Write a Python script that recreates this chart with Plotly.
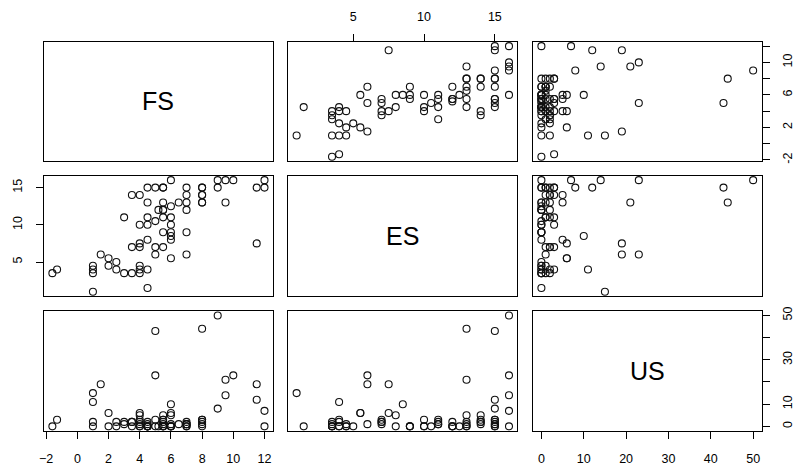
import plotly.graph_objects as go

# ---- data: (FS, ES, US) triplets read from the scatterplot matrix ----
FS = [-1.6, -1.3, 1, 1, 1, 1, 1.5, 2, 2, 2.5, 2.5, 3, 3, 3.5, 3.5, 3.5,
      4, 4, 4, 4, 4, 4, 4, 4.5, 4.5, 4.5, 4.5, 4.5, 4.5, 4.5,
      5, 5, 5, 5, 5.2, 5.5, 5.5, 5.5, 5.5, 5.5, 5.5, 5.5, 5.5,
      6, 6, 6, 6, 6, 6, 6, 6, 6.5, 7, 7, 7, 7, 7, 7,
      8, 8, 8, 8, 8, 8, 9, 9, 9.5, 9.5, 10, 11.5, 11.5, 12, 12]
ES = [3.5, 4, 1, 4, 3.5, 4.5, 6, 5.5, 4.5, 5, 4, 11, 3.5, 14, 7, 3.5,
      14, 7.5, 10, 7, 4.5, 4, 3.5, 15, 13, 11, 10, 8, 4, 1.5,
      15, 10.5, 7, 6, 12, 15, 15, 13, 12, 12, 11, 9, 7,
      16, 12.5, 11, 10, 9, 8.5, 8, 5.5, 13, 15, 14, 13, 12, 9, 6,
      15, 15, 14, 14, 13, 13, 16, 15, 16, 13, 16, 15, 7.5, 16, 15]
US = [0, 3, 15, 11, 2, 0, 19, 6, 0, 0, 2, 2, 1, 2, 2, 0,
      5, 6, 3, 2, 1, 0, 0, 2, 0, 1, 0, 0, 0, 0,
      43, 0, 3, 23, 0, 3, 0, 5, 2, 0, 3, 0, 1,
      0, 0, 1, 0, 0, 10, 5, 6, 1, 1, 1, 2, 0, 0, 1,
      3, 1, 3, 2, 44, 0, 50, 8, 14, 21, 23, 12, 19, 7, 0]

names = ["FS", "ES", "US"]
values = [FS, ES, US]
ranges = [[-2.144, 12.544], [0.4, 16.6], [-2.0, 52.0]]

FS_ticks = [-2, 0, 2, 4, 6, 8, 10, 12]
ES_ticks = [5, 10, 15]
US_ticks = [0, 10, 20, 30, 40, 50]

W, H = 795, 466
xpix = [(39.3, 270.7), (286.0, 517.7), (533.3, 764.3)]
ypix = [(38.3, 159.5), (174.3, 296.7), (311.7, 433.3)]
xdom = [[a / W, b / W] for a, b in xpix]
ydom = [[1 - b / H, 1 - a / H] for a, b in ypix]

FONT = "Liberation Sans, Arial, sans-serif"
fig = go.Figure()
layout = dict(width=W, height=H, margin=dict(l=0, r=0, t=0, b=0),
              paper_bgcolor="white", plot_bgcolor="white", showlegend=False,
              font=dict(family=FONT, size=12, color="black"))
annotations = []

base = dict(showline=True, mirror=True, linecolor="black", linewidth=1,
            showgrid=False, zeroline=False, ticks="", showticklabels=False,
            ticklen=7, tickwidth=1, tickcolor="black",
            tickfont=dict(family=FONT, size=12.5, color="black"))

for r in range(3):
    for c in range(3):
        k = r * 3 + c + 1
        sfx = "" if k == 1 else str(k)
        xa = dict(base, domain=xdom[c], anchor="y" + sfx, range=ranges[c])
        ya = dict(base, domain=ydom[r], anchor="x" + sfx, range=ranges[r])
        if r != c:
            fig.add_trace(go.Scatter(
                x=values[c], y=values[r], mode="markers",
                xaxis="x" + sfx, yaxis="y" + sfx,
                marker=dict(symbol="circle-open", size=7, color="#111",
                            line=dict(width=1.1, color="#111")),
                hoverinfo="skip"))
        else:
            # empty trace so the diagonal panel's axes are drawn
            fig.add_trace(go.Scatter(x=[None], y=[None], mode="markers",
                                     xaxis="x" + sfx, yaxis="y" + sfx,
                                     hoverinfo="skip"))
            annotations.append(dict(
                text=names[r], x=0.5, y=0.5, xref=f"x{sfx} domain",
                yref=f"y{sfx} domain", showarrow=False,
                font=dict(family=FONT, size=25, color="black")))
        layout["xaxis" + sfx] = xa
        layout["yaxis" + sfx] = ya

# outer axes as in R pairs()
layout["xaxis2"].update(side="top", ticks="outside", showticklabels=True,
                        tickvals=ES_ticks, ticklabelstandoff=8)
layout["yaxis3"].update(side="right", ticks="outside", showticklabels=True,
                        tickvals=FS_ticks,
                        ticktext=["-2", "", "2", "", "6", "", "10", ""],
                        tickangle=-90, ticklabelstandoff=7)
layout["yaxis4"].update(side="left", ticks="outside", showticklabels=True,
                        tickvals=ES_ticks, tickangle=-90, ticklabelstandoff=9)
layout["xaxis7"].update(side="bottom", ticks="outside", showticklabels=True,
                        tickvals=FS_ticks, ticklabelstandoff=9)
layout["xaxis9"].update(side="bottom", ticks="outside", showticklabels=True,
                        tickvals=US_ticks, ticklabelstandoff=9)
layout["yaxis9"].update(side="right", ticks="outside", showticklabels=True,
                        tickvals=US_ticks,
                        ticktext=["0", "10", "", "30", "", "50"],
                        tickangle=-90, ticklabelstandoff=7)

layout["annotations"] = annotations
fig.update_layout(**layout)
fig.write_html("out.html")
